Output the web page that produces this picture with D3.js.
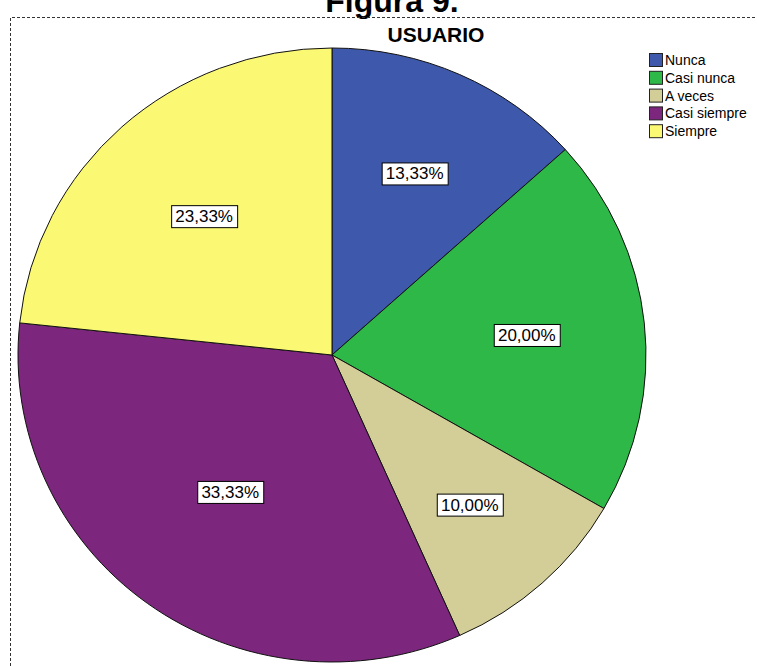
<!DOCTYPE html>
<html>
<head>
<meta charset="utf-8">
<script src="https://cdn.jsdelivr.net/npm/d3@7"></script>
<style>
  body { margin: 0; background: #fff; }
  svg { display: block; font-family: "Liberation Sans", Arial, sans-serif; }
</style>
</head>
<body>
<div id="chart"></div>
<script>
const categories = ['Nunca', 'Casi nunca', 'A veces', 'Casi siempre', 'Siempre'];
const values = [13.33, 20.00, 10.00, 33.33, 23.33];
const labels = ['13,33%', '20,00%', '10,00%', '33,33%', '23,33%'];
const colors = ['#3e58ac', '#2eb848', '#d3ce97', '#7c277d', '#fbf873'];

const width = 757;
const height = 666;

const svg = d3.select('#chart')
  .append('svg')
  .attr('width', width)
  .attr('height', height);

// caption, cut off at the top like in the source
svg.append('text')
  .text('Figura 9.')
  .attr('x', 392)
  .attr('y', 12)
  .attr('text-anchor', 'middle')
  .attr('font-weight', 'bold')
  .attr('font-size', '32px');

// dashed frame
svg.append('path')
  .attr('d', 'M10.5,' + (height + 5) + 'V17.5H' + (width + 5))
  .attr('fill', 'none')
  .attr('stroke', '#333')
  .attr('stroke-dasharray', '3,2');

svg.append('text')
  .text('USUARIO')
  .attr('x', 436)
  .attr('y', 42)
  .attr('text-anchor', 'middle')
  .attr('font-weight', 'bold')
  .attr('font-size', '21px');

// pie is a little wider than tall in the source
const cx = 332, cy = 355, ry = 307, rx = 314;
const sx = rx / ry;

const pie = d3.pie().sort(null).value(d => d);
const arcs = pie(values);
const arc = d3.arc().innerRadius(0).outerRadius(ry);

const g = svg.append('g').attr('transform', 'translate(' + cx + ',' + cy + ')');

g.append('g')
  .attr('transform', 'scale(' + sx + ',1)')
  .selectAll('.slice')
  .data(arcs)
  .enter()
  .append('path')
  .attr('class', 'slice')
  .attr('d', arc)
  .attr('fill', (d, i) => colors[i])
  .attr('stroke', '#111')
  .attr('stroke-width', 1)
  .attr('vector-effect', 'non-scaling-stroke');

// label at the centroid of each sector
function sectorCentroid(d) {
  const half = (d.endAngle - d.startAngle) / 2;
  const mid = d.startAngle + half;
  const dist = 2 * ry * Math.sin(half) / (3 * half);
  return [Math.sin(mid) * dist * sx, -Math.cos(mid) * dist];
}

const lab = g.selectAll('.lab')
  .data(arcs)
  .enter()
  .append('g')
  .attr('class', 'lab')
  .attr('transform', d => 'translate(' + sectorCentroid(d) + ')');

lab.append('text')
  .text((d, i) => labels[i])
  .attr('text-anchor', 'middle')
  .attr('dy', '0.35em')
  .attr('font-size', '17px')
  .each(function () {
    const b = this.getBBox();
    d3.select(this.parentNode).insert('rect', 'text')
      .attr('x', Math.round(b.x - 4) + 0.5)
      .attr('y', Math.round(b.y - 2) + 0.5)
      .attr('width', Math.round(b.width + 8))
      .attr('height', Math.round(b.height + 3))
      .attr('fill', '#fff')
      .attr('stroke', '#000');
  });

// legend
const legend = svg.append('g').attr('transform', 'translate(649,53)');
const item = legend.selectAll('.item')
  .data(categories)
  .enter()
  .append('g')
  .attr('transform', (d, i) => 'translate(0,' + i * 17.8 + ')');

item.append('rect')
  .attr('x', 0.5)
  .attr('y', 0.5)
  .attr('width', 13)
  .attr('height', 13)
  .attr('fill', (d, i) => colors[i])
  .attr('stroke', '#222');

item.append('text')
  .text(d => d)
  .attr('x', 16)
  .attr('y', 12)
  .attr('font-size', '14px');
</script>
</body>
</html>
